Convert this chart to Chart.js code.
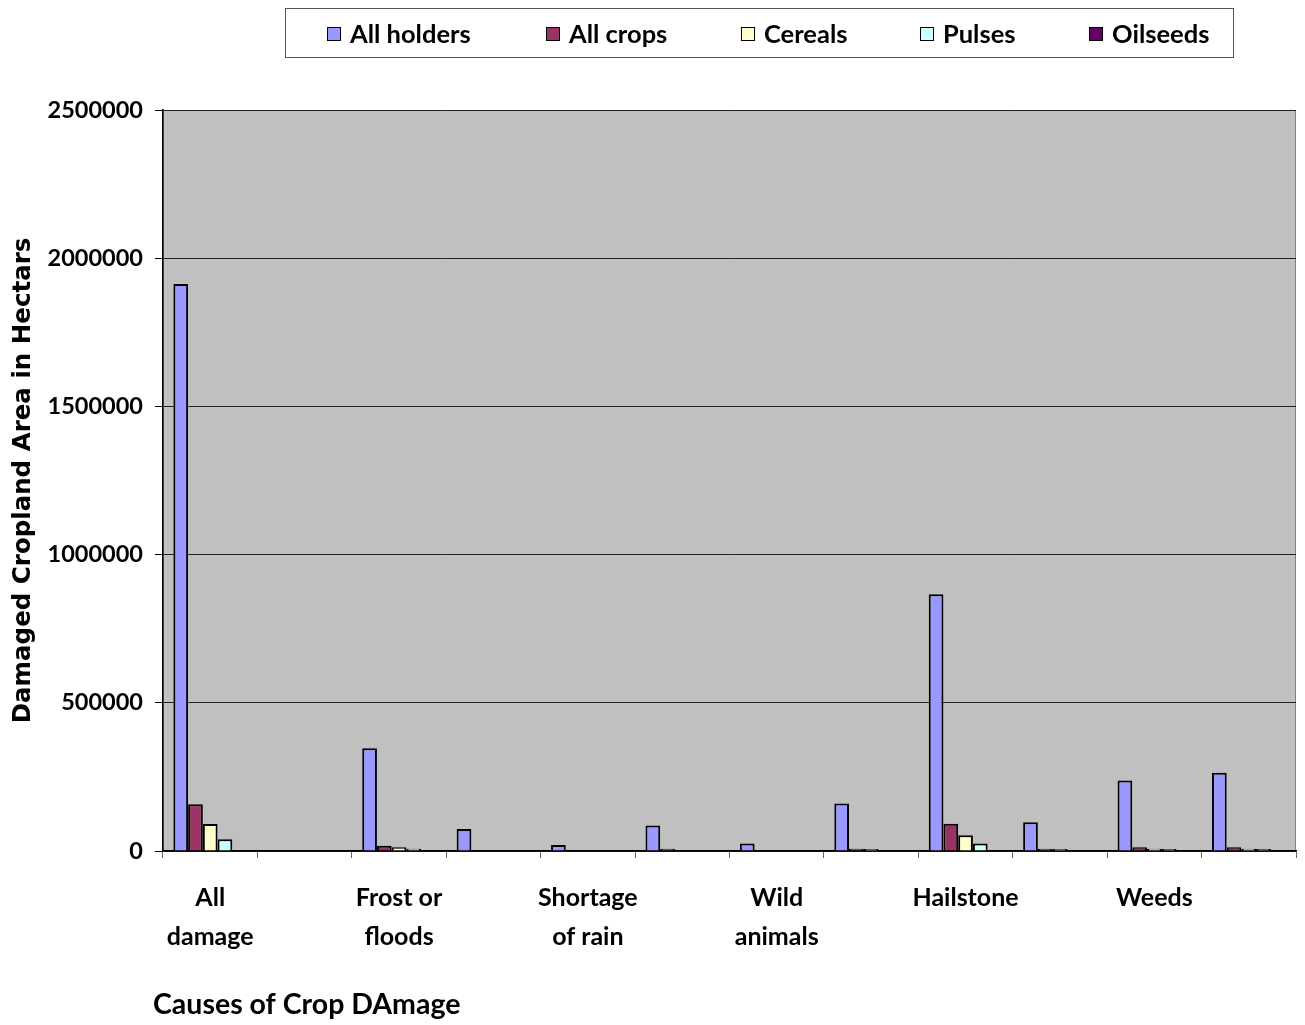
<!DOCTYPE html>
<html lang="en">
<head>
    <meta charset="UTF-8">
    <title>Causes of Crop Damage</title>
    <script src="https://cdn.jsdelivr.net/npm/chart.js"></script>
    <style>
        html, body { margin: 0; padding: 0; background: #fff; }
        #wrap { width: 1305px; height: 1025px; position: relative; }
    </style>
</head>
<body>
<div id="wrap"><canvas id="cropChart"></canvas></div>
<script>
// categories (only every other one is labelled in the original)
const categories = [['All', 'damage'], '', ['Frost or', 'floods'], '', ['Shortage', 'of rain'], '',
    ['Wild', 'animals'], '', 'Hailstone', '', 'Weeds', ''];

const allHolders = [1913000, 0, 347000, 74000, 20000, 86000, 25000, 160000, 866000, 97000, 238000, 264000];
const allCrops   = [158000, 0, 18000, 0, 0, 8000, 0, 8000, 92000, 8000, 13000, 13000];
const cereals    = [91000, 0, 13000, 0, 0, 0, 0, 7000, 53000, 7000, 8000, 8000];
const pulses     = [40000, 0, 8000, 0, 0, 0, 0, 0, 25000, 0, 7000, 7000];
const oilseeds   = [0, 0, 0, 0, 0, 0, 0, 0, 0, 0, 0, 0];

const yTicks = [0, 500000, 1000000, 1500000, 2000000, 2500000];

const seriesNames = ['All holders', 'All crops', 'Cereals', 'Pulses', 'Oilseeds'];
const seriesColors = ['#9999FF', '#993366', '#FFFFCC', '#CCFFFF', '#660066'];
const seriesData = [allHolders, allCrops, cereals, pulses, oilseeds];

const labelFont = "Lato";
const xTitle = 'Causes of Crop DAmage';

// grey plot area + thin border
const plotBackground = {
    id: 'plotBackground',
    beforeDraw(chart) {
        const {ctx, chartArea: a} = chart;
        ctx.save();
        ctx.fillStyle = '#C0C0C0';
        ctx.fillRect(a.left, a.top, a.right - a.left, a.bottom - a.top);
        ctx.strokeStyle = '#808080';
        ctx.lineWidth = 1;
        ctx.strokeRect(a.left + 0.5, a.top + 0.5, a.right - a.left - 1, a.bottom - a.top - 1);
        ctx.restore();
    }
};

// boxed legend like the spreadsheet one, plus the x title (sits a bit left of the axis)
const boxLegend = {
    id: 'boxLegend',
    afterDraw(chart) {
        const ctx = chart.ctx;
        const xs = [327, 546, 741, 920, 1089];
        ctx.save();
        ctx.strokeStyle = '#555';
        ctx.lineWidth = 1;
        ctx.strokeRect(285.5, 8.5, 948, 49);
        ctx.font = 'bold 25.5px ' + labelFont;
        ctx.textBaseline = 'middle';
        chart.data.datasets.forEach((ds, i) => {
            ctx.fillStyle = ds.backgroundColor;
            ctx.fillRect(xs[i], 27, 14, 14);
            ctx.strokeStyle = '#000';
            ctx.strokeRect(xs[i] + 0.5, 27.5, 13, 13);
            ctx.fillStyle = '#000';
            ctx.fillText(ds.label, xs[i] + 23, 35);
        });
        ctx.font = 'bold 28.5px ' + labelFont;
        ctx.fillText(xTitle, 153, 1005);
        ctx.restore();
    }
};

const ctx = document.getElementById('cropChart').getContext('2d');
new Chart(ctx, {
    type: 'bar',
    data: {
        labels: categories,
        datasets: seriesNames.map((name, i) => ({
            label: name,
            data: seriesData[i],
            backgroundColor: seriesColors[i],
            borderColor: '#000',
            borderWidth: 2,
            categoryPercentage: 0.78,
            barPercentage: 1.0
        }))
    },
    options: {
        responsive: true,
        maintainAspectRatio: false,
        animation: false,
        layout: { padding: { top: 110, right: 9, left: 0, bottom: 0 } },
        plugins: {
            legend: { display: false },
            tooltip: { enabled: false }
        },
        scales: {
            x: {
                grid: {
                    offset: true,
                    drawOnChartArea: false,
                    drawTicks: true,
                    tickLength: 7,
                    color: '#666'
                },
                border: { color: '#000', width: 1.5 },
                ticks: {
                    autoSkip: false,
                    maxRotation: 0,
                    padding: 21,
                    color: '#000',
                    font: { family: labelFont, weight: 'bold', size: 25, lineHeight: 1.55 }
                },
                afterFit(scale) { scale.height = 174; }
            },
            y: {
                min: 0,
                max: 2500000,
                afterBuildTicks(scale) { scale.ticks = yTicks.map(v => ({ value: v })); },
                grid: {
                    color: '#222',
                    lineWidth: 1,
                    tickLength: 8,
                    tickColor: '#000'
                },
                border: { color: '#000', width: 1.5 },
                ticks: {
                    padding: 12,
                    color: '#000',
                    callback: v => String(v),
                    font: { family: labelFont, weight: 'bold', size: 23.5 }
                },
                title: {
                    display: true,
                    text: 'Damaged Cropland Area in Hectars',
                    color: '#000',
                    padding: { top: 9, bottom: 0 },
                    font: { family: 'DejaVu Sans', weight: 'bold', size: 24.5 }
                },
                afterFit(scale) { scale.width = 163; }
            }
        }
    },
    plugins: [plotBackground, boxLegend]
});
</script>
</body>
</html>
